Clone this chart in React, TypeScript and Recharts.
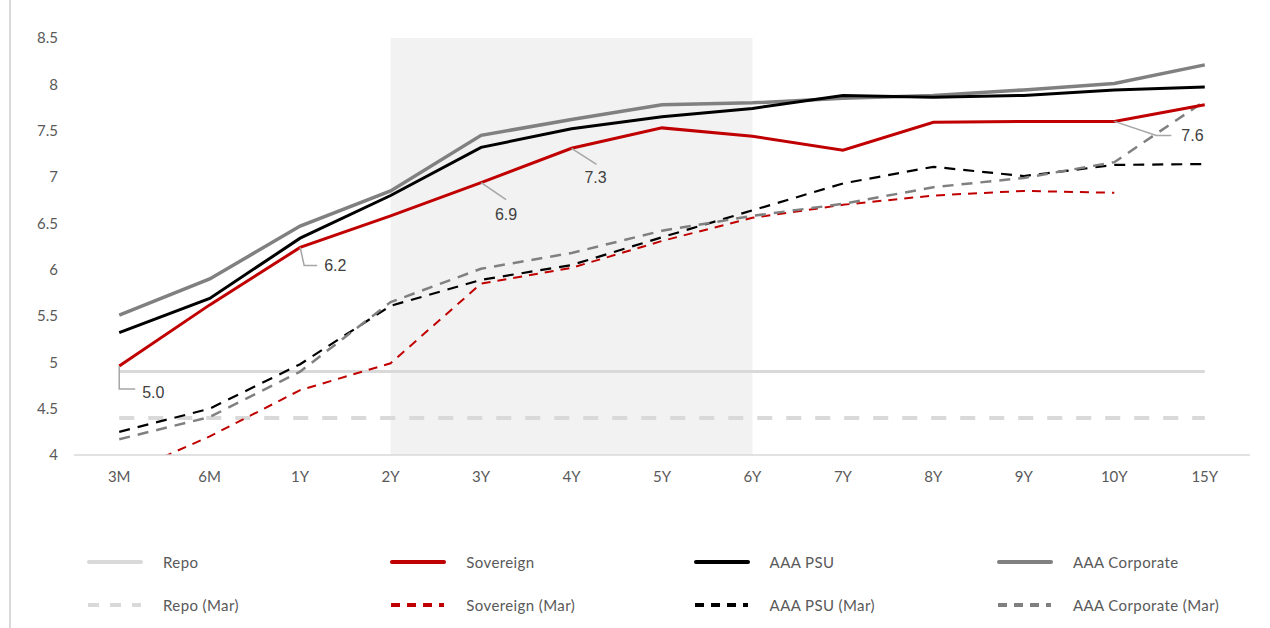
import { LineChart, Line, XAxis, YAxis, ReferenceArea } from "recharts";

const TENORS = ["3M", "6M", "1Y", "2Y", "3Y", "4Y", "5Y", "6Y", "7Y", "8Y", "9Y", "10Y", "15Y"];

const REPO = [4.9, 4.9, 4.9, 4.9, 4.9, 4.9, 4.9, 4.9, 4.9, 4.9, 4.9, 4.9, 4.9];
const SOVEREIGN = [4.96, 5.62, 6.24, 6.58, 6.94, 7.31, 7.53, 7.44, 7.29, 7.59, 7.6, 7.6, 7.78];
const AAA_PSU = [5.32, 5.69, 6.34, 6.8, 7.32, 7.52, 7.65, 7.74, 7.88, 7.86, 7.88, 7.94, 7.97];
const AAA_CORPORATE = [5.51, 5.9, 6.47, 6.85, 7.45, 7.62, 7.78, 7.8, 7.85, 7.88, 7.94, 8.01, 8.21];

const REPO_MAR = [4.4, 4.4, 4.4, 4.4, 4.4, 4.4, 4.4, 4.4, 4.4, 4.4, 4.4, 4.4, 4.4];
const SOVEREIGN_MAR = [3.77, 4.2, 4.7, 4.99, 5.85, 6.02, 6.31, 6.56, 6.7, 6.8, 6.85, 6.83, null];
const AAA_PSU_MAR = [4.25, 4.5, 4.98, 5.61, 5.89, 6.05, 6.35, 6.64, 6.93, 7.11, 7.01, 7.13, 7.14];
const AAA_CORPORATE_MAR = [4.17, 4.41, 4.9, 5.65, 6.01, 6.18, 6.42, 6.58, 6.71, 6.89, 6.99, 7.16, 7.82];

const Y_TICKS = [4, 4.5, 5, 5.5, 6, 6.5, 7, 7.5, 8, 8.5];
// shaded tenor window
const SHADED = ["2Y", "6Y"];
// sovereign points that carry a callout label
const CALLOUTS = ["3M", "1Y", "3Y", "4Y", "10Y"];

const data = TENORS.map((tenor, i) => ({
  idx: i,
  tenor,
  repo: REPO[i],
  sovereign: SOVEREIGN[i],
  psu: AAA_PSU[i],
  corporate: AAA_CORPORATE[i],
  repoMar: REPO_MAR[i],
  sovereignMar: SOVEREIGN_MAR[i],
  psuMar: AAA_PSU_MAR[i],
  corporateMar: AAA_CORPORATE_MAR[i],
}));

const AXIS_FONT = "Lato, 'Open Sans', sans-serif";
const TEXT_COLOR = "#595959";

type SeriesStyle = {
  key: string;
  name: string;
  color: string;
  width: number;
  dash?: string;
  legendDash?: string;
};

const SERIES: SeriesStyle[] = [
  { key: "repo", name: "Repo", color: "#d9d9d9", width: 3 },
  { key: "repoMar", name: "Repo (Mar)", color: "#d9d9d9", width: 4, dash: "15 14", legendDash: "11 11" },
  { key: "sovereignMar", name: "Sovereign (Mar)", color: "#c00000", width: 2, dash: "9 7", legendDash: "9 7" },
  { key: "psuMar", name: "AAA PSU (Mar)", color: "#000000", width: 2.2, dash: "11 8", legendDash: "9 7" },
  { key: "corporateMar", name: "AAA Corporate (Mar)", color: "#808080", width: 2.5, dash: "11 8", legendDash: "9 7" },
  { key: "corporate", name: "AAA Corporate", color: "#808080", width: 3.5 },
  { key: "psu", name: "AAA PSU", color: "#000000", width: 3 },
  { key: "sovereign", name: "Sovereign", color: "#c00000", width: 3 },
];

const LEGEND_ORDER = [
  ["repo", "sovereign", "psu", "corporate"],
  ["repoMar", "sovereignMar", "psuMar", "corporateMar"],
];

// leader-line shapes for each callout, relative to the point
const LEADERS: Record<string, { path: number[][]; tx: number; ty: number; anchor: "start" | "middle" }> = {
  "3M": { path: [[0, 0], [0, 23], [16, 23]], tx: 23, ty: 32, anchor: "start" },
  "1Y": { path: [[0, 0], [4, 18], [17, 18]], tx: 24, ty: 24, anchor: "start" },
  "3Y": { path: [[0, 0], [25, 17]], tx: 25, ty: 37, anchor: "middle" },
  "4Y": { path: [[0, 0], [25, 16]], tx: 24, ty: 35, anchor: "middle" },
  "10Y": { path: [[0, 0], [42, 14], [57, 14]], tx: 67, ty: 20, anchor: "start" },
};

function renderCallout(props: any) {
  const { cx, cy, index, value } = props;
  const tenor = TENORS[index];
  if (!CALLOUTS.includes(tenor) || cx == null || cy == null) {
    return <g key={`c-${index}`} />;
  }
  const leader = LEADERS[tenor];
  const d = leader.path
    .map(([dx, dy], i) => `${i === 0 ? "M" : "L"}${cx + dx},${cy + dy}`)
    .join(" ");
  return (
    <g key={`c-${index}`}>
      <path d={d} stroke="#a6a6a6" strokeWidth={1.5} fill="none" />
      <text
        x={cx + leader.tx}
        y={cy + leader.ty}
        textAnchor={leader.anchor}
        fontFamily="'Liberation Sans', Arial, sans-serif"
        fontSize={16}
        fill="#404040"
      >
        {Number(value).toFixed(1)}
      </text>
    </g>
  );
}

function LegendBlock() {
  const byKey = Object.fromEntries(SERIES.map((s) => [s.key, s]));
  return (
    <div style={{ position: "absolute", left: 87, top: 540, width: 1220 }}>
      {LEGEND_ORDER.map((row, r) => (
        <div key={r} style={{ display: "flex", height: 43, alignItems: "center" }}>
          {row.map((key) => {
            const s = byKey[key];
            return (
              <div
                key={key}
                style={{ width: 303.3, flexShrink: 0, display: "flex", alignItems: "center" }}
              >
                <svg width={56} height={10} style={{ display: "block" }}>
                  <line
                    x1={s.legendDash ? 1 : 2}
                    x2={54}
                    y1={5}
                    y2={5}
                    stroke={s.color}
                    strokeWidth={4}
                    strokeLinecap={s.legendDash ? "butt" : "round"}
                    strokeDasharray={s.legendDash}
                  />
                </svg>
                <span
                  style={{
                    marginLeft: 20,
                    fontFamily: AXIS_FONT,
                    fontSize: 15,
                    letterSpacing: 0.4,
                    color: TEXT_COLOR,
                  }}
                >
                  {s.name}
                </span>
              </div>
            );
          })}
        </div>
      ))}
    </div>
  );
}

export default function App() {
  return (
    <div
      style={{
        position: "absolute",
        left: 0,
        top: 0,
        width: 1270,
        height: 628,
        background: "#fff",
      }}
    >
      <div
        style={{
          position: "absolute",
          left: 9,
          top: 0,
          width: 2,
          height: 628,
          background: "#d9d9d9",
        }}
      />
      <LineChart
        width={1270}
        height={628}
        data={data}
        margin={{ top: 38, right: 20, left: 14, bottom: 143 }}
      >
        <ReferenceArea
          x1={TENORS.indexOf(SHADED[0])}
          x2={TENORS.indexOf(SHADED[1])}
          fill="#f2f2f2"
          fillOpacity={1}
          stroke="none"
        />
        <XAxis
          type="number"
          dataKey="idx"
          domain={[-0.5, TENORS.length - 0.5]}
          ticks={TENORS.map((_, i) => i)}
          interval={0}
          tickFormatter={(v) => TENORS[v]}
          tick={{ fill: TEXT_COLOR, fontSize: 15, fontFamily: AXIS_FONT }}
          tickLine={false}
          tickMargin={10}
          axisLine={{ stroke: "#d9d9d9", strokeWidth: 1.5 }}
          height={30}
        />
        <YAxis
          type="number"
          domain={[4, 8.5]}
          ticks={Y_TICKS}
          interval={0}
          allowDataOverflow
          tick={{ fill: TEXT_COLOR, fontSize: 15, fontFamily: AXIS_FONT }}
          tickLine={false}
          axisLine={false}
          tickMargin={10}
          width={60}
        />
        {SERIES.map((s) => (
          <Line
            key={s.key}
            type="linear"
            dataKey={s.key}
            name={s.name}
            stroke={s.color}
            strokeWidth={s.width}
            strokeDasharray={s.dash}
            dot={s.key === "sovereign" ? renderCallout : false}
            activeDot={false}
            connectNulls={false}
            isAnimationActive={false}
          />
        ))}
      </LineChart>
      <LegendBlock />
    </div>
  );
}
